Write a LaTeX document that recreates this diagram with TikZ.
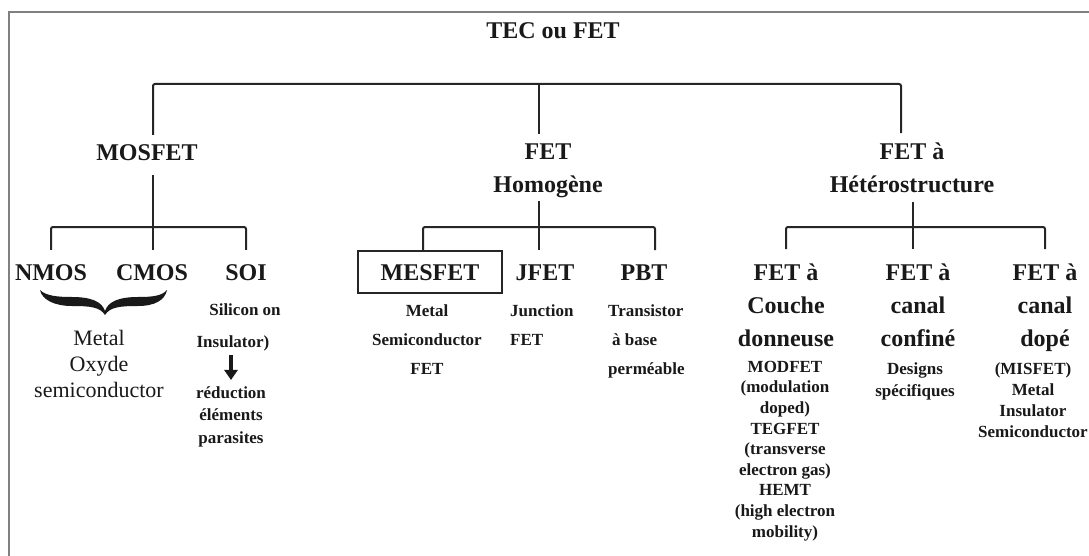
\documentclass[tikz,border=0pt]{standalone}
\usepackage{fontspec}
\setmainfont{Liberation Serif}
\usetikzlibrary{arrows.meta}
\begin{document}
\begin{tikzpicture}[x=1pt,y=-1pt,
  conn/.style={draw=black!85, line width=2pt, rounded corners=2pt},
  frameline/.style={draw=black!50, line width=2pt},
  big/.style={font=\bfseries\fontsize{24}{33}\selectfont, text=black!90, inner sep=0pt, align=center, anchor=base},
  small/.style={font=\bfseries\fontsize{17}{20.6}\selectfont, text=black!90, inner sep=0pt, align=center, anchor=base},
  reg/.style={font=\fontsize{22}{26}\selectfont, text=black!90, inner sep=0pt, align=center, anchor=base},
  boxed/.style={draw=black!85, line width=2pt, text height=16pt, text depth=0pt, inner ysep=13pt, minimum width=144pt},
  bracefill/.style={fill=black!90},
  arrowline/.style={draw=black!90, line width=3.4pt, -{Triangle[length=10pt,width=13pt]}}
]
\useasboundingbox (0,0) rectangle (1089,556);
\fill[white] (0,0) rectangle (1089,556);
\draw[frameline] (1090,12) -- (9,12) -- (9,557);

% headings (anchor=base is the baseline of the last line)
\node[big] (title) at (553,39) {TEC ou FET};
\node[big] (mosfet) at (147,161) {MOSFET};
\node[big] (homo) at (548,193) {FET\\Homogène};
\node[big] (het) at (912,193) {FET à\\Hétérostructure};

\node[big] (nmos) at (51,280) {NMOS};
\node[big] (cmos) at (152,280) {CMOS};
\node[big] (soi) at (246,280) {SOI};
\node[big, boxed] (mesfet) at (430,280) {MESFET};
\node[big] (jfet) at (545,280) {JFET};
\node[big] (pbt) at (644,280) {PBT};
\node[big] (couche) at (786,346) {FET à\\Couche\\donneuse};
\node[big] (confine) at (918,346) {FET à\\canal\\confiné};
\node[big] (dope) at (1045,346) {FET à\\canal\\dopé};

% descriptions
\node[reg] (mosdesc) at (99,397) {Metal\\Oxyde\\semiconductor};
\node[small] (silicon) at (245,315) {Silicon on};
\node[small] (insul) at (233,347) {Insulator)};
\node[small, font=\bfseries\fontsize{17}{22.5}\selectfont] (reduc) at (231,443) {réduction\\éléments\\parasites};
\node[small, font=\bfseries\fontsize{17}{29}\selectfont] (mesdesc) at (427,374) {Metal\\Semiconductor\\FET};
\node[small, font=\bfseries\fontsize{17}{29}\selectfont, align=left, anchor=base west] (jdesc) at (510,345) {Junction\\FET};
\node[small, font=\bfseries\fontsize{17}{29}\selectfont, align=left, anchor=base west] (pdesc) at (608,374) {Transistor\\\hspace{4pt}à base\\perméable};
\node[small] (cdesc1) at (785,537) {MODFET\\(modulation\\doped)\\TEGFET\\(transverse\\electron gas)\\HEMT\\(high electron\\mobility)};
\node[small, font=\bfseries\fontsize{17}{22}\selectfont] (cdesc2) at (915,396) {Designs\\spécifiques};
\node[small, font=\bfseries\fontsize{17}{21}\selectfont] (cdesc3) at (1033,437) {(MISFET)\\Metal\\Insulator\\Semiconductor};

% top bar
\coordinate (tL) at (153,84);
\coordinate (tM) at (539,84);
\coordinate (tR) at (901,84);
\draw[conn, shorten <=10pt, shorten >=10pt] (tL |- mosfet.north) -- (tL) -- (tR) -- (tR |- het.north);
\draw[conn, shorten >=10pt] (tM) -- (tM |- homo.north);

% MOSFET group
\coordinate (mb) at (153,227);
\draw[conn, shorten <=14pt] (mb |- mosfet.south) -- (mb);
\draw[conn, shorten <=14pt, shorten >=14pt] (nmos.north) |- (mb) -| (soi.north);
\draw[conn, shorten >=14pt] (mb) -- (mb |- cmos.north);

% Homogene group
\coordinate (hb) at (539,227);
\coordinate (hL) at (423,227);
\coordinate (hR) at (655,227);
\draw[conn, shorten <=3pt] (hb |- homo.south) -- (hb);
\draw[conn, shorten >=14pt] (hL |- mesfet.north) -- (hL) -- (hR) -- (hR |- pbt.north);
\draw[conn, shorten >=14pt] (hb) -- (hb |- jfet.north);

% Heterostructure group
\coordinate (rb) at (913,227);
\draw[conn, shorten <=9pt] (rb |- het.south) -- (rb);
\draw[conn, shorten <=14pt, shorten >=14pt] (couche.north) |- (rb) -| (dope.north);
\draw[conn, shorten >=14pt] (rb) -- (rb |- confine.north);

% brace under NMOS / CMOS
\fill[bracefill] (40,290) .. controls (42,300) and (55,306) .. (72,306)
  .. controls (90,306) and (100,307) .. (105,315)
  .. controls (110,307) and (120,306) .. (138,306)
  .. controls (155,306) and (165,300) .. (167,290)
  .. controls (162,296) and (152,297) .. (138,297)
  .. controls (118,297) and (108,302) .. (105,311)
  .. controls (102,302) and (92,297) .. (72,297)
  .. controls (58,297) and (46,296) .. (40,290) -- cycle;

% arrow SOI
\draw[arrowline, shorten <=4pt, shorten >=6pt] (insul.south -| reduc.north) -- (reduc.north);
\end{tikzpicture}
\end{document}
